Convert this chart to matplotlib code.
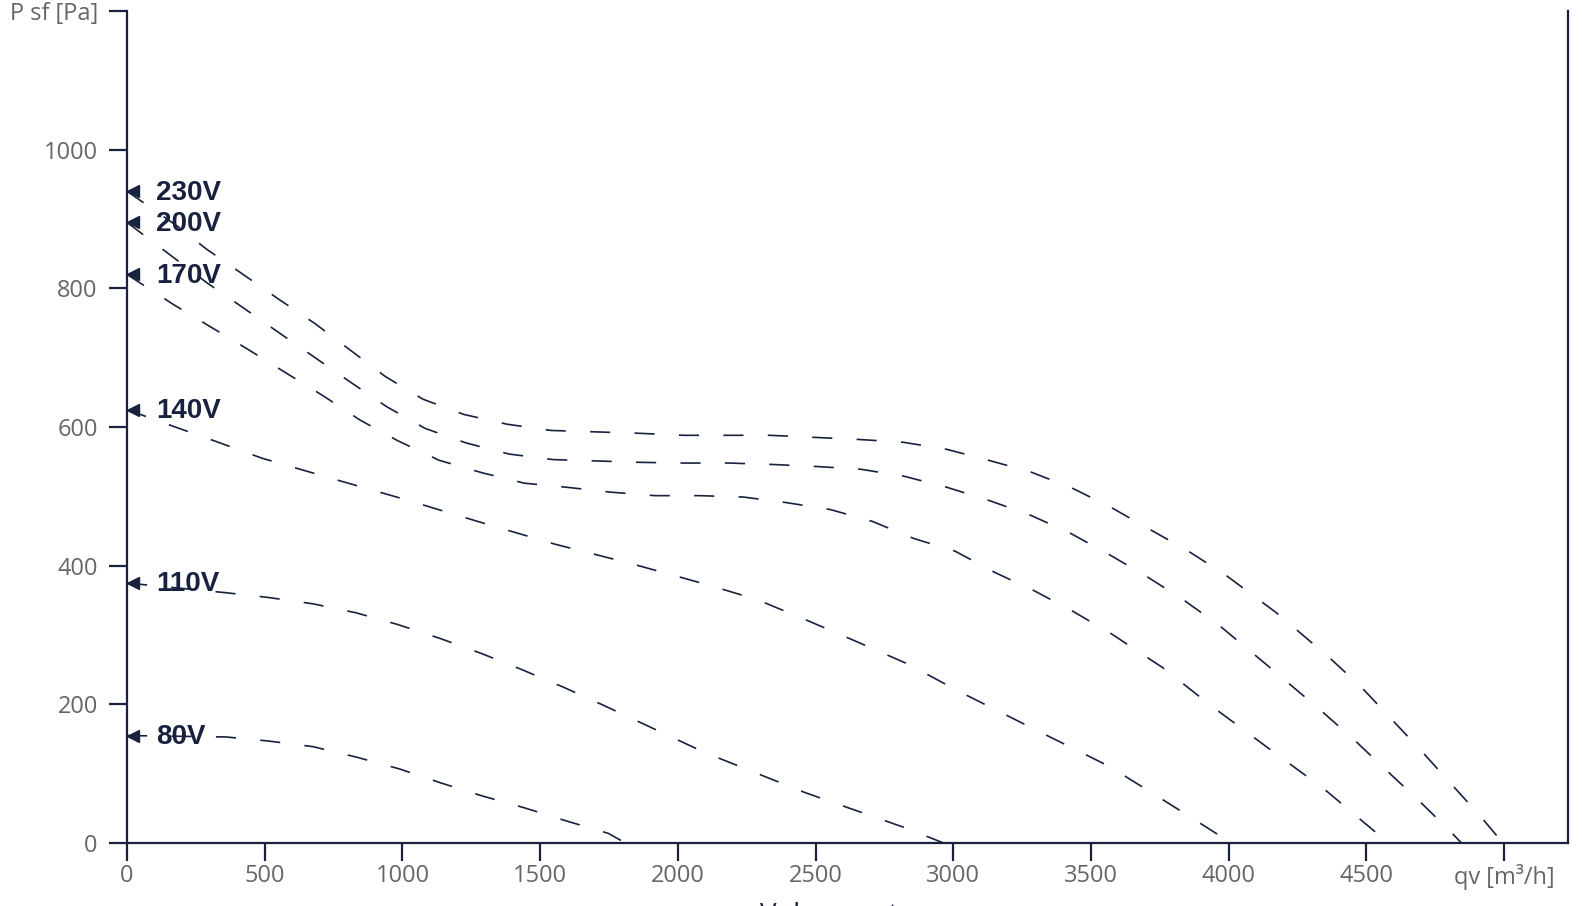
import matplotlib
matplotlib.use("Agg")
import matplotlib.pyplot as plt
import matplotlib.transforms as mtransforms

plt.rcParams['lines.scale_dashes'] = False

NAVY = '#18223e'
GREY = '#666666'

# fan curves: airflow [m3/h] vs static pressure [Pa]
labels = ['230V', '200V', '170V', '140V', '110V', '80V']

q_230 = [0, 185, 287, 418, 548, 683, 810, 937, 1075, 1224, 1380, 1540, 1699, 1855, 2019,
         2179, 2335, 2498, 2658, 2818, 2974, 3119, 3282, 3431, 3573, 3715, 3853, 3987,
         4170, 4361, 4481, 4590, 4699, 4808, 4913, 4985]
p_230 = [940, 889, 857, 821, 785, 749, 711, 673, 640, 618, 604, 595, 593, 591, 588,
         588, 588, 585, 582, 578, 568, 553, 535, 512, 484, 452, 421, 387,
         333, 269, 225, 179, 133, 85, 39, 5]

q_200 = [0, 157, 290, 418, 548, 679, 810, 944, 1082, 1231, 1387, 1547, 1707, 1866, 2026,
         2186, 2342, 2505, 2665, 2821, 2977, 3130, 3279, 3424, 3566, 3704, 3838, 3965,
         4150, 4335, 4455, 4572, 4688, 4804, 4845]
p_200 = [895, 848, 808, 773, 737, 701, 665, 629, 598, 577, 561, 553, 551, 549, 548,
         548, 546, 543, 539, 529, 513, 494, 473, 447, 416, 384, 350, 314,
         253, 191, 149, 105, 62, 17, 0]

q_170 = [0, 167, 305, 443, 577, 712, 846, 984, 1133, 1289, 1442, 1598, 1757, 1917, 2077,
         2237, 2393, 2553, 2705, 2858, 3006, 3152, 3293, 3435, 3573, 3760, 3936, 4150,
         4346, 4466, 4580]
p_170 = [820, 777, 744, 711, 678, 645, 610, 580, 552, 534, 519, 513, 506, 501, 501,
         499, 491, 481, 464, 439, 421, 390, 364, 334, 302, 253, 198, 135,
         78, 38, 0]

q_140 = [0, 189, 338, 490, 750, 1005, 1280, 1554, 1830, 2103, 2288, 2470, 2640, 2836,
         3019, 3290, 3569, 3863, 4009]
p_140 = [625, 598, 577, 555, 525, 496, 463, 431, 403, 373, 351, 321, 292, 258,
         219, 165, 110, 37, 0]

q_110 = [0, 359, 516, 675, 832, 984, 1137, 1289, 1434, 1583, 1728, 2095, 2460, 2825, 2965]
p_110 = [375, 361, 354, 345, 332, 315, 295, 273, 250, 225, 199, 131, 73, 22, 0]

q_80 = [0, 359, 516, 675, 832, 988, 1137, 1289, 1441, 1594, 1747, 1810]
p_80 = [155, 153, 147, 139, 124, 107, 87, 68, 51, 32, 14, 0]

curves_q = [q_230, q_200, q_170, q_140, q_110, q_80]
curves_p = [p_230, p_200, p_170, p_140, p_110, p_80]

x_ticks = [0, 500, 1000, 1500, 2000, 2500, 3000, 3500, 4000, 4500, 5000]
x_ticklabels = ['0', '500', '1000', '1500', '2000', '2500', '3000', '3500', '4000', '4500', 'qv [m³/h]']
y_ticks = [0, 200, 400, 600, 800, 1000, 1200]
y_ticklabels = ['0', '200', '400', '600', '800', '1000', 'P sf [Pa]']

fig = plt.figure(figsize=(15.82, 9.06), dpi=100)
ax = fig.add_axes([0.0803, 0.0695, 0.9912 - 0.0803, 0.9879 - 0.0695])

# marker sits just right of the axis so its tip touches it
shift = ax.transData + mtransforms.ScaledTranslation(4.5 / 72, 0, fig.dpi_scale_trans)

for q, p, lab in zip(curves_q, curves_p, labels):
    ax.plot(q, p, color=NAVY, lw=1.2, dashes=(14.5, 17.5), dash_capstyle='butt')
    ax.plot([q[0]], [p[0]], marker='<', ms=9, color=NAVY, transform=shift,
            clip_on=False, linestyle='none')
    ax.annotate(lab, xy=(q[0], p[0]), xytext=(21, -1), textcoords='offset points',
                ha='left', va='center', fontsize=20, fontweight='bold',
                family='Liberation Sans', color=NAVY)

ax.set_xlim(0, 5232)
ax.set_ylim(0, 1200)
ax.set_xticks(x_ticks)
ax.set_xticklabels(x_ticklabels)
ax.set_yticks(y_ticks)
ax.set_yticklabels(y_ticklabels)

for s in ['left', 'bottom', 'right']:
    ax.spines[s].set_color(NAVY)
    ax.spines[s].set_linewidth(1.6)
ax.spines['top'].set_visible(False)

ax.tick_params(axis='both', direction='out', length=13, width=1.6, color=NAVY,
               labelcolor=GREY, labelsize=17)
ax.tick_params(axis='x', pad=2)
ax.tick_params(axis='y', pad=8)
for t in ax.get_xticklabels() + ax.get_yticklabels():
    t.set_family('Open Sans')

# axis title, mostly below the bottom edge of the picture
fig.text(0.541, -0.027, 'Volumenstrom', ha='center', va='bottom', fontsize=20,
         family='Open Sans', color=NAVY)

fig.savefig('out.png', dpi=100)
